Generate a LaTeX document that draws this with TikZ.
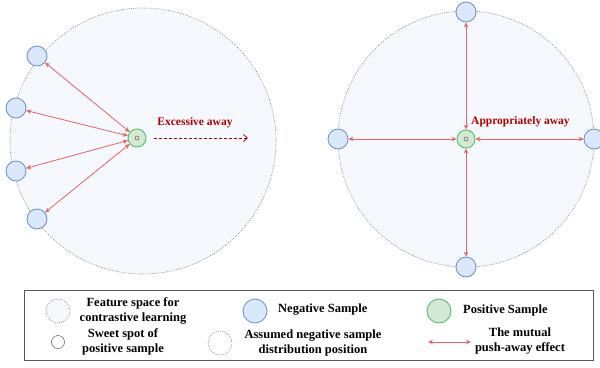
\documentclass[tikz,border=0pt]{standalone}
\usepackage{fontspec}
\setmainfont{Liberation Serif}
\usetikzlibrary{arrows.meta}
\definecolor{spacefill}{HTML}{F5F8FC}
\definecolor{spaceline}{HTML}{8A8A8A}
\definecolor{negfill}{HTML}{DAE8FC}
\definecolor{negline}{HTML}{6C8EBF}
\definecolor{posfill}{HTML}{D5E8D4}
\definecolor{posline}{HTML}{4CC26E}
\definecolor{pushred}{HTML}{E06666}
\definecolor{labred}{HTML}{B20000}
\tikzset{
  space/.style={circle, draw=spaceline, fill=spacefill, line width=0.6pt,
    dash pattern=on 1pt off 1.2pt, inner sep=0pt, minimum size=#1},
  ghost/.style={circle, draw=spaceline, fill=white, line width=0.6pt,
    dash pattern=on 1pt off 1.2pt, inner sep=0pt, minimum size=#1},
  negs/.style={circle, draw=negline, fill=negfill, line width=0.8pt,
    inner sep=0pt, minimum size=20pt},
  poss/.style={circle, draw=posline, fill=posfill, line width=0.9pt,
    inner sep=0pt, minimum size=18pt},
  sweet/.style={circle, draw=black!65, line width=0.5pt, inner sep=0pt,
    minimum size=#1},
  push/.style={draw=pushred, line width=0.8pt,
    {Stealth[length=5pt,width=4.5pt]}-{Stealth[length=5pt,width=4.5pt]}},
  far/.style={draw=labred, line width=0.8pt, dash pattern=on 3pt off 2pt,
    -{Straight Barb[length=4pt,width=7pt]}},
  lab/.style={font=\fontsize{11.5}{13}\selectfont\bfseries, text=labred,
    inner sep=0pt},
  legtext/.style={font=\fontsize{12.5}{15}\selectfont\bfseries, align=center,
    inner sep=0pt},
}
\begin{document}
\begin{tikzpicture}[x=1pt, y=-1pt]
\useasboundingbox (0,0) rectangle (600,367);

% left feature space: samples pushed too far
\node[space=266pt] (spaceL) at (143,141) {};
\node[poss] (posL) at (137,138) {};
\node[sweet=4pt] (spotL) at (137,138) {};
\node[negs] (nL1) at (37,56) {};
\node[negs] (nL2) at (16,108) {};
\node[negs] (nL3) at (16,171) {};
\node[negs] (nL4) at (37,219) {};
\foreach \n in {nL1,nL2,nL3,nL4} \draw[push] (posL) -- (\n);
\coordinate (awayS) at (154,138);
\coordinate (awayE) at (248,138);
\draw[far] (awayS) -- (awayE);
\node[lab] (txtL) at (195,123) {Excessive away};

% right feature space: samples spread evenly
\node[space=256pt] (spaceR) at (466,139) {};
\node[poss] (posR) at (466,139) {};
\node[sweet=4pt] (spotR) at (466,139) {};
\node[negs] (nR1) at (466,12) {};
\node[negs] (nR2) at (338,139) {};
\node[negs] (nR3) at (594,139) {};
\node[negs] (nR4) at (466,267) {};
\foreach \n in {nR1,nR2,nR3,nR4} \draw[push] (posR) -- (\n);
\node[lab, anchor=west] (txtR) at (471,122) {Appropriately away};

% legend
\node[draw=black!65, line width=1pt, minimum width=569pt, minimum height=70pt,
  inner sep=0pt] (legend) at (308.5,325) {};
\node[space=24pt] (kSpace) at (58,311) {};
\node[legtext] (tSpace) at (133,310.5) {Feature space for\\contrastive learning};
\node[sweet=13pt] (kSpot) at (58,342) {};
\node[legtext] (tSpot) at (123,341.5) {Sweet spot of\\positive sample};
\node[negs, minimum size=24pt] (kNeg) at (255,311) {};
\node[legtext, anchor=west] (tNeg) at (278,310) {Negative Sample};
\node[ghost=24pt] (kGhost) at (220,343) {};
\node[legtext] (tGhost) at (313,342.5) {Assumed negative sample\\distribution position};
\node[poss, minimum size=24pt] (kPos) at (439,311) {};
\node[legtext, anchor=west] (tPos) at (463,310) {Positive Sample};
\coordinate (kArrA) at (428,342);
\coordinate (kArrB) at (471,342);
\draw[push, line width=0.7pt] (kArrA) -- (kArrB);
\node[legtext] (tArr) at (520,341.5) {The mutual\\push-away effect};
\end{tikzpicture}
\end{document}
